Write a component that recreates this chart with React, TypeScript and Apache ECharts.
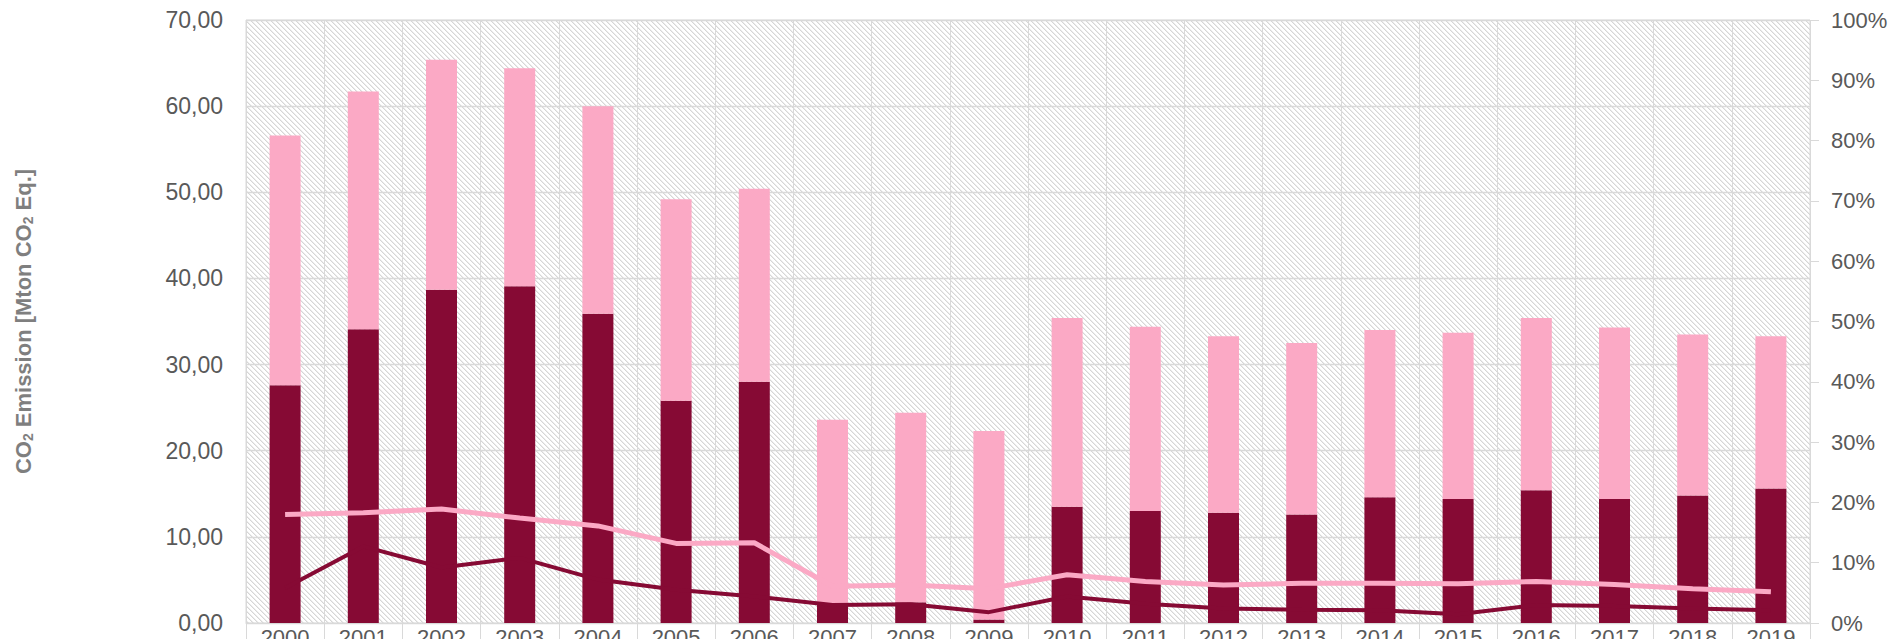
import React, { useEffect, useRef } from 'react';
import * as echarts from 'echarts';

const years = ['2000', '2001', '2002', '2003', '2004', '2005', '2006', '2007', '2008', '2009', '2010', '2011', '2012', '2013', '2014', '2015', '2016', '2017', '2018', '2019'];
// lower (dark) stacked part, Mton CO2 Eq.
const darkBars = [27.6, 34.1, 38.7, 39.1, 35.9, 25.8, 28.0, 2.2, 2.4, 0.4, 13.5, 13.0, 12.8, 12.6, 14.6, 14.4, 15.4, 14.4, 14.8, 15.6];
// upper (pink) stacked part, Mton CO2 Eq.
const pinkBars = [29.0, 27.6, 26.7, 25.3, 24.1, 23.4, 22.4, 21.4, 22.0, 21.9, 21.9, 21.4, 20.5, 19.9, 19.4, 19.3, 20.0, 19.9, 18.7, 17.7];
// share lines, % (right axis)
const pinkLinePct = [18.0, 18.3, 18.9, 17.4, 16.1, 13.2, 13.3, 6.1, 6.3, 5.7, 8.0, 6.9, 6.3, 6.6, 6.6, 6.5, 6.9, 6.4, 5.7, 5.2];
const darkLinePct = [5.8, 12.7, 9.2, 10.8, 7.2, 5.5, 4.4, 3.0, 3.1, 1.8, 4.4, 3.2, 2.4, 2.2, 2.1, 1.45, 3.0, 2.8, 2.4, 2.1];

const leftMax = 70;
const leftInterval = 10;
const rightMax = 100;
const rightInterval = 10;

const DARK = '#860A34';
const PINK = '#FBA9C5';
const GRIDC = '#d9d9d9';
const TXT = '#595959';
const FONT = "'Liberation Sans', Arial, sans-serif";

export default function App() {
  const ref = useRef<HTMLDivElement>(null);
  useEffect(() => {
    const chart = echarts.init(ref.current!, null, { renderer: 'svg' });
    const cv = document.createElement('canvas');
    cv.width = 5;
    cv.height = 5;
    const ctx = cv.getContext('2d')!;
    ctx.fillStyle = '#ffffff';
    ctx.fillRect(0, 0, 5, 5);
    for (let y = 0; y < 5; y++) {
      for (let x = 0; x < 5; x++) {
        const d = (x - y + 5) % 5;
        if (d === 0) {
          ctx.fillStyle = '#d6d6d6';
          ctx.fillRect(x, y, 1, 1);
        } else if (d === 1) {
          ctx.fillStyle = '#ececec';
          ctx.fillRect(x, y, 1, 1);
        }
      }
    }
    const pattern: any = { image: cv, repeat: 'repeat', imageWidth: 5, imageHeight: 5 };

    chart.setOption({
      animation: false,
      backgroundColor: '#ffffff',
      textStyle: { fontFamily: FONT },
      grid: {
        left: 246,
        right: 78,
        top: 20,
        bottom: 16,
        outerBoundsMode: 'none',
        containLabel: false,
        show: true,
        backgroundColor: pattern,
        borderColor: GRIDC,
        borderWidth: 1,
      },
      xAxis: {
        type: 'category',
        data: years,
        boundaryGap: true,
        axisLine: { show: true, lineStyle: { color: GRIDC, width: 1 } },
        axisTick: { show: true, length: 22, lineStyle: { color: GRIDC } },
        splitLine: { show: true, interval: 0, lineStyle: { color: GRIDC, width: 1 } },
        axisLabel: { color: TXT, fontSize: 22, margin: 3, fontFamily: FONT, interval: 0 },
      },
      yAxis: [
        {
          type: 'value',
          min: 0,
          max: leftMax,
          interval: leftInterval,
          name: 'CO{s|2} Emission [Mton CO{s|2} Eq.]',
          nameLocation: 'middle',
          nameGap: 211,
          nameTextStyle: {
            color: '#7f7f7f',
            fontSize: 22,
            fontWeight: 'bold',
            fontFamily: FONT,
            rich: {
              s: { fontSize: 14, fontWeight: 'bold', color: '#7f7f7f', verticalAlign: 'bottom', padding: [9, 0, 0, 0], fontFamily: FONT },
            },
          },
          axisLine: { show: false },
          axisTick: { show: false },
          splitLine: { show: true, lineStyle: { color: GRIDC, width: 1.3 } },
          axisLabel: {
            color: TXT,
            fontSize: 23,
            margin: 23,
            fontFamily: FONT,
            formatter: (v: number) => v.toFixed(2).replace('.', ','),
          },
        },
        {
          type: 'value',
          min: 0,
          max: rightMax,
          interval: rightInterval,
          position: 'right',
          axisLine: { show: false },
          axisTick: { show: true, inside: false, length: 9, lineStyle: { color: GRIDC } },
          splitLine: { show: false },
          axisLabel: { color: TXT, fontSize: 22, margin: 21, fontFamily: FONT, formatter: '{value}%' },
        },
      ],
      series: [
        {
          type: 'bar',
          stack: 'em',
          data: darkBars,
          barWidth: 31,
          itemStyle: { color: DARK },
          z: 2,
        },
        {
          type: 'bar',
          stack: 'em',
          data: pinkBars,
          barWidth: 31,
          itemStyle: { color: PINK },
          z: 2,
        },
        {
          type: 'line',
          yAxisIndex: 1,
          data: pinkLinePct,
          symbol: 'none',
          lineStyle: { color: PINK, width: 5 },
          z: 4,
        },
        {
          type: 'line',
          yAxisIndex: 1,
          data: darkLinePct,
          symbol: 'none',
          lineStyle: { color: DARK, width: 4 },
          z: 5,
        },
      ],
    });
    return () => chart.dispose();
  }, []);
  return <div ref={ref} style={{ position: 'fixed', left: 0, top: 0, width: 1888, height: 639 }} />;
}
